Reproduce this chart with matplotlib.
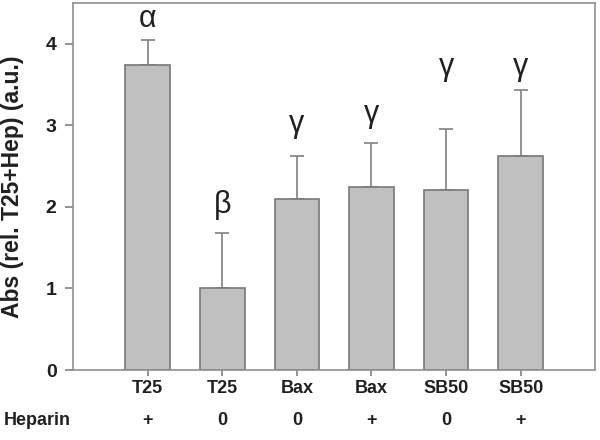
import matplotlib.pyplot as plt
import numpy as np

plt.rcParams['font.family'] = ['Liberation Sans', 'DejaVu Sans']

grupos = ['T25', 'T25', 'Bax', 'Bax', 'SB50', 'SB50']
heparina = ['+', '0', '0', '+', '0', '+']
valores = [3.74, 1.00, 2.10, 2.25, 2.21, 2.62]
errores = [0.31, 0.68, 0.52, 0.53, 0.75, 0.82]
letras = ['α', 'β', 'γ', 'γ', 'γ', 'γ']
altura_letras = [4.31, 2.03, 3.02, 3.14, 3.72, 3.72]

fig = plt.figure(figsize=(6, 4.4), dpi=100)
ax = fig.add_axes([0.122, 0.159, 0.870, 0.834])

x = np.arange(1, len(valores) + 1)
ax.bar(x, valores, width=0.6, color='#c0c0c0', edgecolor='#787878', linewidth=1.2, zorder=2)
ax.errorbar(x, valores, yerr=[np.zeros(len(errores)), errores], fmt='none',
            ecolor='#808080', elinewidth=1.2, capsize=5, capthick=1.2, zorder=1)

# letras de significancia
for xi, letra, h in zip(x, letras, altura_letras):
    ax.text(xi, h, letra, ha='center', va='center', fontsize=22, color='#202020')

ax.set_xlim(0, 7)
ax.set_ylim(0, 4.5)
ax.set_yticks([0, 1, 2, 3, 4])
ax.set_xticks(x)
ax.set_xticklabels(grupos, fontsize=13, fontweight='bold')
for lab in ax.get_yticklabels():
    lab.set_fontsize(14)
    lab.set_fontweight('bold')

for s in ax.spines.values():
    s.set_color('#909090')
    s.set_linewidth(1.2)
ax.tick_params(axis='both', colors='#808080', labelcolor='#202020', direction='out')
ax.tick_params(axis='y', length=6, width=1.2, pad=6)
ax.tick_params(axis='x', length=4, width=1.2, pad=3)

ax.set_ylabel('Abs (rel. T25+Hep) (a.u.)', fontsize=16.5, fontweight='bold', color='#202020')
ax.yaxis.set_label_coords(-0.094, 0.5)

# fila de heparina
for xi, h in zip(x, heparina):
    ax.text(xi, -0.62, h, ha='center', va='center', fontsize=13, fontweight='bold', color='#202020')
ax.text(-0.03, -0.62, 'Heparin', ha='right', va='center', fontsize=13, fontweight='bold',
        color='#202020', clip_on=False)

fig.savefig('out.png', dpi=100)
